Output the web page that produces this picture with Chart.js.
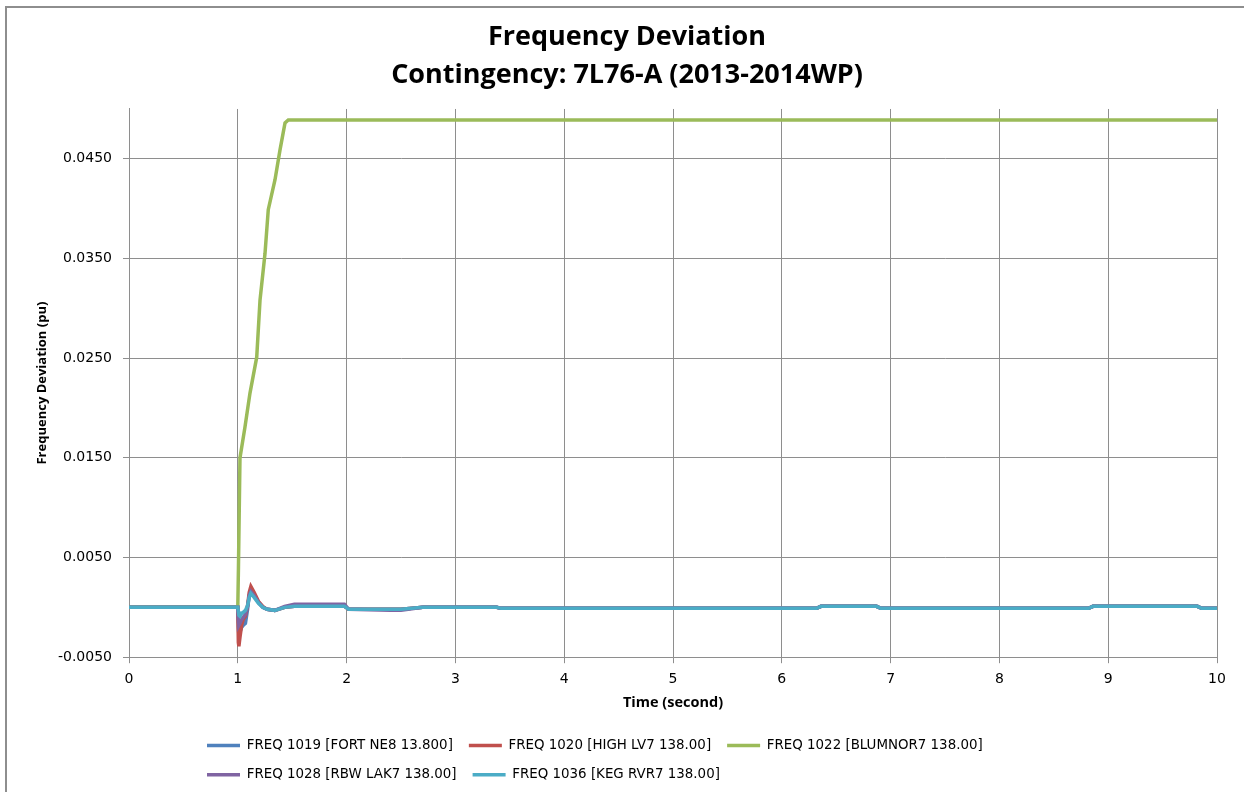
<!DOCTYPE html>
<html>
<head>
<meta charset="utf-8">
<title>Frequency Deviation</title>
<script src="https://cdn.jsdelivr.net/npm/chart.js@4/dist/chart.umd.min.js"></script>
<style>
  html, body { margin: 0; padding: 0; background: #ffffff; }
  #frame { position: absolute; left: 5px; top: 6px; width: 1400px; height: 900px;
           border: 2px solid #8e8e8e; box-sizing: border-box; }
  #wrap { position: absolute; left: 0; top: 0; width: 1244px; height: 792px; overflow: hidden; }
  canvas { position: absolute; left: 0; top: 0; }
</style>
</head>
<body>
<div id="wrap">
  <div id="frame"></div>
  <canvas id="c" width="1244" height="792"></canvas>
</div>
<script>
// Time samples (s) for the bus frequency swing traces
const tSwing = [0, 1.0, 1.005, 1.01, 1.02, 1.035, 1.05, 1.07, 1.09, 1.105, 1.12, 1.15, 1.19, 1.23,
                1.27, 1.34, 1.43, 1.52, 1.98, 2.02, 2.4, 2.5, 2.7, 3.38, 3.42, 6.32, 6.36, 6.87,
                6.91, 8.82, 8.86, 9.82, 9.86, 10];

// Frequency deviation (pu) for each monitored bus
const freq1019 = [0, 0, -0.0020, -0.0028, -0.0025, -0.0020, -0.0018, -0.0016, -0.0002, 0.0012, 0.0018, 0.0013, 0.0005, 0.0000,
                  -0.0002, -0.0003, 0.0000, 0.0001, 0.0001, -0.0002, -0.0002, -0.0002, 0.0000, 0.0000, -0.0001, -0.0001, 0.0001, 0.0001,
                  -0.0001, -0.0001, 0.0001, 0.0001, -0.0001, -0.0001];
const freq1020 = [0, 0, -0.0035, -0.0039, -0.0030, -0.0018, -0.0012, -0.0009, 0.0002, 0.0015, 0.0021, 0.0015, 0.0006, 0.0001,
                  -0.0002, -0.0003, 0.0000, 0.0001, 0.0001, -0.0002, -0.0002, -0.0002, 0.0000, 0.0000, -0.0001, -0.0001, 0.0001, 0.0001,
                  -0.0001, -0.0001, 0.0001, 0.0001, -0.0001, -0.0001];
const freq1028 = [0, 0, -0.0012, -0.0018, -0.0016, -0.0012, -0.0010, -0.0007, 0.0001, 0.0012, 0.0016, 0.0012, 0.0005, 0.0000,
                  -0.0002, -0.0003, 0.0001, 0.0003, 0.0003, -0.0002, -0.0003, -0.0003, 0.0000, 0.0000, -0.0001, -0.0001, 0.0001, 0.0001,
                  -0.0001, -0.0001, 0.0001, 0.0001, -0.0001, -0.0001];
const freq1036 = [0, 0, -0.0004, -0.0008, -0.0009, -0.0006, -0.0005, -0.0003, 0.0002, 0.0010, 0.0014, 0.0010, 0.0004, 0.0000,
                  -0.0002, -0.0003, 0.0000, 0.0001, 0.0001, -0.0002, -0.0002, -0.0002, 0.0000, 0.0000, -0.0001, -0.0001, 0.0001, 0.0001,
                  -0.0001, -0.0001, 0.0001, 0.0001, -0.0001, -0.0001];

// Blumnor bus ramps up after the contingency and settles
const tRamp    = [0, 1.0, 1.006, 1.02, 1.066, 1.112, 1.174, 1.204, 1.25, 1.28, 1.342, 1.388, 1.434, 1.464, 10];
const freq1022 = [0, 0, 0.0040, 0.0150, 0.0181, 0.0215, 0.0251, 0.0308, 0.0355, 0.0399, 0.0429, 0.0459, 0.0486, 0.0489, 0.0489];

const seriesNames = ['FREQ 1019 [FORT NE8 13.800]', 'FREQ 1020 [HIGH LV7 138.00]', 'FREQ 1022 [BLUMNOR7 138.00]',
                     'FREQ 1028 [RBW LAK7 138.00]', 'FREQ 1036 [KEG RVR7 138.00]'];
const seriesColors = ['#4F81BD', '#C0504D', '#9BBB59', '#8064A2', '#4BACC6'];

const yTicks = [-0.005, 0.005, 0.015, 0.025, 0.035, 0.045];
const xTicks = [0, 1, 2, 3, 4, 5, 6, 7, 8, 9, 10];

const titleLines = ['Frequency Deviation', 'Contingency: 7L76-A (2013-2014WP)'];

const pts = (ts, vs) => ts.map((t, i) => ({ x: t, y: vs[i] }));

const traces = [
  pts(tSwing, freq1019), pts(tSwing, freq1020), pts(tRamp, freq1022),
  pts(tSwing, freq1028), pts(tSwing, freq1036)
];

const datasets = traces.map((d, i) => ({
  label: seriesNames[i],
  data: d,
  borderColor: seriesColors[i],
  backgroundColor: seriesColors[i],
  borderWidth: 3.5,
  pointRadius: 0,
  tension: 0,
  fill: false,
  order: traces.length - i   // later series paint on top
}));

// Nudge the title to the page centre and the legend rows under the plot
const TITLE_DX = 18.5;
const LEGEND_DX = 191;
const LEGEND_DY = 5.5;
const blockShift = {
  id: 'blockShift',
  afterLayout(chart) {
    const tb = chart.titleBlock;
    if (tb) {
      tb.left += TITLE_DX;
      tb.right += TITLE_DX;
    }
    const lg = chart.legend;
    if (lg) {
      lg.left += LEGEND_DX;
      lg.top += LEGEND_DY;
      lg.bottom += LEGEND_DY;
    }
  }
};

const gridColor = '#8e8e8e';

new Chart(document.getElementById('c'), {
  type: 'line',
  data: { datasets },
  plugins: [blockShift],
  options: {
    responsive: false,
    devicePixelRatio: 1,
    animation: false,
    layout: { padding: { left: 0, right: 27, top: 0, bottom: 6 } },
    plugins: {
      title: {
        display: true,
        text: titleLines,
        color: '#000000',
        font: { family: 'Open Sans', weight: 'bold', size: 27, lineHeight: 1.407 },
        padding: { top: 18, bottom: 15 }
      },
      legend: {
        position: 'bottom',
        align: 'start',
        labels: {
          color: '#000000',
          font: { family: 'DejaVu Sans', size: 13.4 },
          usePointStyle: true,
          pointStyle: 'line',
          pointStyleWidth: 33,
          padding: 16,
          sort: (a, b) => a.datasetIndex - b.datasetIndex
        }
      },
      tooltip: { enabled: false }
    },
    scales: {
      x: {
        type: 'linear',
        min: 0,
        max: 10,
        afterBuildTicks: s => { s.ticks = xTicks.map(v => ({ value: v })); },
        afterFit: s => { s.height = 60; },
        ticks: {
          color: '#000000',
          font: { family: 'DejaVu Sans', size: 14 },
          padding: 8,
          maxRotation: 0,
          callback: v => String(v)
        },
        grid: { color: gridColor, lineWidth: 1, tickLength: 6, drawTicks: true },
        border: { display: true, color: gridColor, width: 1 },
        title: {
          display: true,
          text: 'Time (second)',
          color: '#000000',
          font: { family: 'Open Sans', weight: 'bold', size: 14.5 },
          padding: { top: 0, bottom: 6 }
        }
      },
      y: {
        type: 'linear',
        min: -0.005,
        max: 0.05,
        afterBuildTicks: s => { s.ticks = yTicks.map(v => ({ value: v })); },
        afterFit: s => { s.width = 129; },
        ticks: {
          color: '#000000',
          font: { family: 'DejaVu Sans', size: 14 },
          padding: 11,
          callback: v => Number(v).toFixed(4)
        },
        grid: { color: gridColor, lineWidth: 1, tickLength: 6, drawTicks: true },
        border: { display: true, color: gridColor, width: 1 },
        title: {
          display: true,
          text: 'Frequency Deviation (pu)',
          color: '#000000',
          font: { family: 'Open Sans', weight: 'bold', size: 13 },
          padding: { top: 34, bottom: 0 }
        }
      }
    }
  }
});
</script>
</body>
</html>
